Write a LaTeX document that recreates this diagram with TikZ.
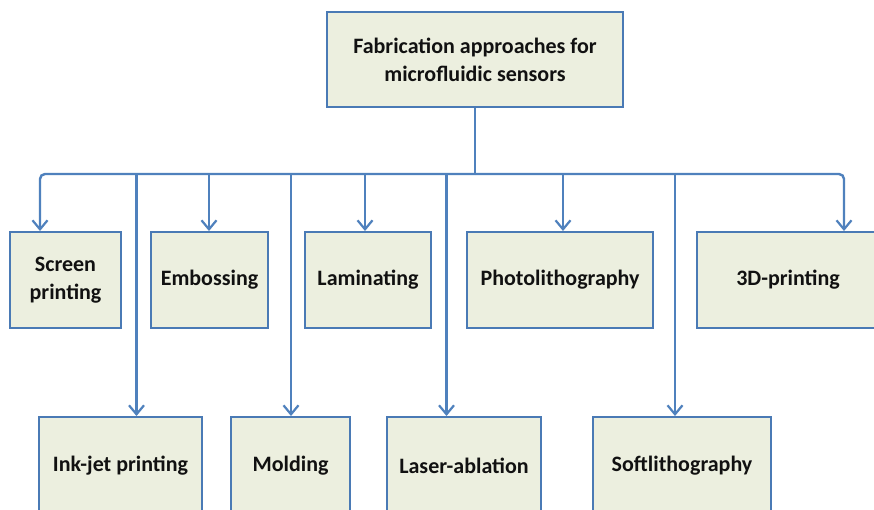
\documentclass[tikz,border=0pt]{standalone}
\usepackage{fontspec}
\setmainfont{Carlito}
\usetikzlibrary{arrows.meta}
\definecolor{boxfill}{HTML}{ECEFDF}
\definecolor{boxline}{HTML}{4A7AB5}
\definecolor{connline}{HTML}{4F81BD}
\definecolor{ink}{HTML}{111111}
\tikzset{
  box/.style={draw=boxline, fill=boxfill, line width=2pt, inner sep=0pt,
    align=center, text=ink, font=\bfseries\fontsize{22}{28}\selectfont},
  conn/.style={draw=connline, line width=2.4pt},
  tip/.style={conn, -{Straight Barb[length=9pt,width=15pt,line width=2.2pt]}}
}
\begin{document}
\begin{tikzpicture}[x=1pt,y=-1pt]
\useasboundingbox (0,0) rectangle (874,509);
\clip (0,0) rectangle (874,509);
\fill[white] (0,0) rectangle (874,509);

% root
\node[box, minimum width=296pt, minimum height=95pt] (root) at (475,59.5)
  {Fabrication approaches for\\microfluidic sensors};

% upper row
\node[box, minimum width=111pt, minimum height=96pt] (screen) at (65.5,280) {Screen\\printing};
\node[box, minimum width=117pt, minimum height=96pt] (emboss) at (209.5,280) {Embossing};
\node[box, minimum width=126pt, minimum height=96pt] (lamin) at (368,280) {Laminating};
\node[box, minimum width=186pt, minimum height=96pt] (photo) at (560,280) {Photolithography};
\node[box, minimum width=182pt, minimum height=96pt] (print3d) at (788,280) {3D-printing};

% lower row
\node[box, minimum width=163pt, minimum height=97pt] (inkjet) at (120.5,465.5) {Ink-jet printing};
\node[box, minimum width=119pt, minimum height=97pt] (mold) at (290.5,465.5) {Molding};
\node[box, minimum width=154pt, minimum height=97pt] (laser) at (464,465.5) {Laser-ablation};
\node[box, minimum width=178pt, minimum height=97pt] (soft) at (682,465.5) {Softlithography};

% bus
\coordinate (hub) at (475,174);
\coordinate (dScreen) at (40,174);
\coordinate (dInk) at (136.5,174);
\coordinate (dEmb) at (209,174);
\coordinate (dMold) at (291,174);
\coordinate (dLam) at (365,174);
\coordinate (dLaser) at (446.5,174);
\coordinate (dPhoto) at (563,174);
\coordinate (dSoft) at (675,174);
\coordinate (d3d) at (844,174);

\draw[conn] (root.south) -- (hub);
\draw[tip, rounded corners=5pt] (hub) -- (dScreen) -- (dScreen |- screen.north);
\draw[tip, rounded corners=5pt] (hub) -- (d3d) -- (d3d |- print3d.north);

\draw[tip] (dEmb) -- (dEmb |- emboss.north);
\draw[tip] (dLam) -- (dLam |- lamin.north);
\draw[tip] (dPhoto) -- (dPhoto |- photo.north);

\draw[tip] (dInk) -- (dInk |- inkjet.north);
\draw[tip] (dMold) -- (dMold |- mold.north);
\draw[tip] (dLaser) -- (dLaser |- laser.north);
\draw[tip] (dSoft) -- (dSoft |- soft.north);
\end{tikzpicture}
\end{document}
